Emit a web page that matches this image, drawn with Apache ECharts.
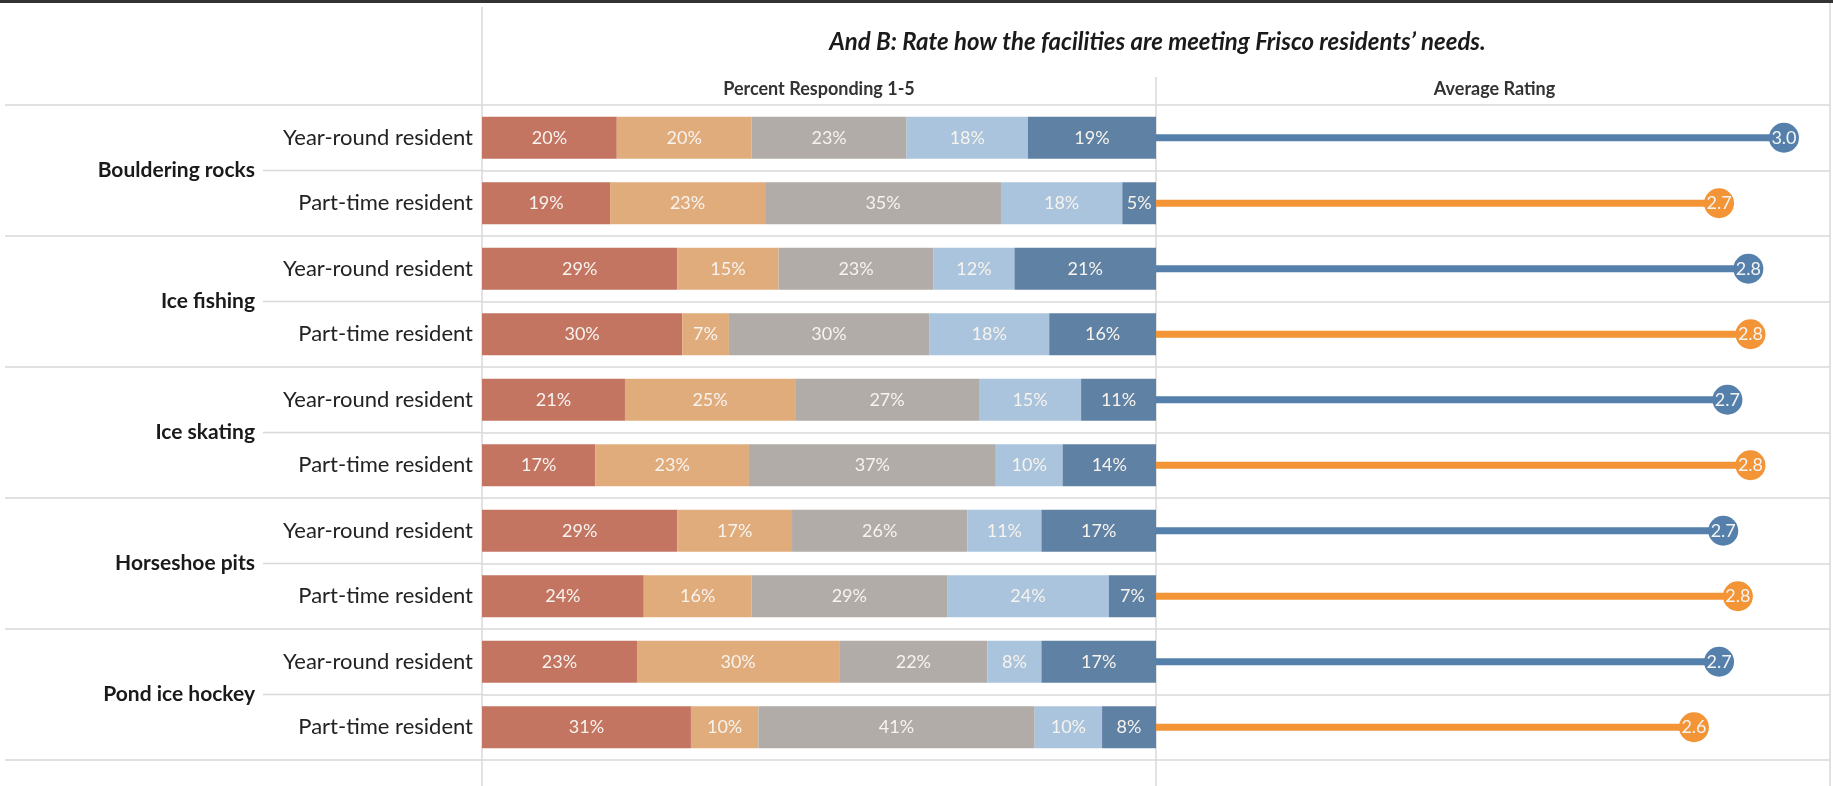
<!DOCTYPE html>
<html>
<head>
<meta charset="utf-8">
<script src="https://cdn.jsdelivr.net/npm/echarts@6/dist/echarts.min.js"></script>
<style>
  html, body { margin: 0; padding: 0; background: #fff; }
  #plot { width: 1833px; height: 786px; }
</style>
</head>
<body>
<div id="plot"></div>
<script>
// facilities and resident types (two rows per facility)
var groups = ['Bouldering rocks', 'Ice fishing', 'Ice skating', 'Horseshoe pits', 'Pond ice hockey'];
var residentTypes = ['Year-round resident', 'Part-time resident'];

// percent responding 1..5, one value per row (Y, P, Y, P ...)
var rating1 = [20, 19, 29, 30, 21, 17, 29, 24, 23, 31];
var rating2 = [20, 23, 15, 7, 25, 23, 17, 16, 30, 10];
var rating3 = [23, 35, 23, 30, 27, 37, 26, 29, 22, 41];
var rating4 = [18, 18, 12, 18, 15, 10, 11, 24, 8, 10];
var rating5 = [19, 5, 21, 16, 11, 14, 17, 7, 17, 8];

// average rating per row
var avgRating = [3.0, 2.69, 2.83, 2.84, 2.73, 2.84, 2.71, 2.78, 2.69, 2.57];

var ratingColors = ['#c47562', '#e1ac7c', '#b1aca7', '#a9c4dc', '#5f81a4'];
var typeColors = ['#5580ab', '#f39536'];
var lineColor = '#d8d8d8';
var font = 'Lato';

var top0 = 105, height0 = 655;
var xBar = 482, xAvg = 1156, xEnd = 1830;

var rowKeys = [];
for (var g = 0; g < groups.length; g++) {
	for (var t = 0; t < residentTypes.length; t++) {
		rowKeys.push(groups[g] + '|' + residentTypes[t]);
	}
}

var ratings = [rating1, rating2, rating3, rating4, rating5];
var totals = rowKeys.map(function (k, i) {
	var s = 0;
	for (var r = 0; r < ratings.length; r++) s += ratings[r][i];
	return s;
});

var series = [];
ratings.forEach(function (arr, r) {
	series.push({
		type: 'bar',
		stack: 'pct',
		xAxisIndex: 0,
		yAxisIndex: 0,
		barWidth: 42,
		data: arr.map(function (v, i) { return v / totals[i] * 100; }),
		itemStyle: { color: ratingColors[r] },
		label: {
			show: true,
			position: 'inside',
			color: '#f7f3ee',
			fontFamily: font,
			fontSize: 18,
			formatter: function (p) { return arr[p.dataIndex] + '%'; }
		},
		silent: true
	});
});

// lollipop stems
series.push({
	type: 'bar',
	xAxisIndex: 1,
	yAxisIndex: 2,
	barWidth: 7,
	data: avgRating,
	itemStyle: { color: function (p) { return typeColors[p.dataIndex % 2]; } },
	silent: true
});
// lollipop heads
series.push({
	type: 'scatter',
	xAxisIndex: 1,
	yAxisIndex: 2,
	symbolSize: 30,
	data: avgRating.map(function (v, i) { return [v, i]; }),
	itemStyle: { color: function (p) { return typeColors[p.dataIndex % 2]; }, opacity: 1 },
	label: {
		show: true,
		position: 'inside',
		color: '#f4f4f4',
		fontFamily: font,
		fontSize: 18,
		formatter: function (p) { return p.value[0].toFixed(1); }
	},
	z: 5,
	silent: true
});

var graphics = [
	{ type: 'rect', shape: { x: 0, y: 0, width: 1833, height: 3 }, style: { fill: '#333' }, silent: true },
	{ type: 'line', shape: { x1: xBar, y1: 7, x2: xBar, y2: 786 }, style: { stroke: lineColor, lineWidth: 1.5 }, silent: true },
	{ type: 'line', shape: { x1: xAvg, y1: 77, x2: xAvg, y2: 786 }, style: { stroke: lineColor, lineWidth: 1.5 }, silent: true },
	{ type: 'line', shape: { x1: xEnd, y1: 3, x2: xEnd, y2: 786 }, style: { stroke: lineColor, lineWidth: 1.5 }, silent: true },
	{
		type: 'text', x: (xBar + 1833) / 2, y: 42,
		style: { text: 'And B: Rate how the facilities are meeting Frisco residents\u2019 needs.', fontFamily: font, fontSize: 24, fontWeight: 'bold', fontStyle: 'italic', fill: '#1a1a1a', align: 'center', verticalAlign: 'middle' },
		silent: true
	},
	{
		type: 'text', x: (xBar + xAvg) / 2, y: 89,
		style: { text: 'Percent Responding 1-5', fontFamily: font, fontSize: 18, fontWeight: 'bold', fill: '#333', align: 'center', verticalAlign: 'middle' },
		silent: true
	},
	{
		type: 'text', x: (xAvg + 1833) / 2, y: 89,
		style: { text: 'Average Rating', fontFamily: font, fontSize: 18, fontWeight: 'bold', fill: '#333', align: 'center', verticalAlign: 'middle' },
		silent: true
	}
];
// short rule after each facility name
var groupH = height0 / groups.length;
for (var k = 0; k < groups.length; k++) {
	var yMid = top0 + groupH * (k + 0.5);
	graphics.push({ type: 'line', shape: { x1: 263, y1: yMid, x2: xBar, y2: yMid }, style: { stroke: lineColor, lineWidth: 1.5 }, silent: true });
}

var option = {
	animation: false,
	backgroundColor: '#fff',
	grid: [
		{ left: xBar, top: top0, width: xAvg - xBar, height: height0 },
		{ left: xAvg, top: top0, width: xEnd - xAvg, height: height0 }
	],
	xAxis: [
		{ type: 'value', gridIndex: 0, min: 0, max: 100, show: false },
		{ type: 'value', gridIndex: 1, min: 0, max: 3.22, show: false }
	],
	yAxis: [
		{
			type: 'category', gridIndex: 0, inverse: true, position: 'left', data: rowKeys,
			axisLine: { show: false }, axisTick: { show: false },
			splitLine: { show: true, lineStyle: { color: lineColor, width: 1.5 } },
			axisLabel: {
				margin: 9, fontFamily: font, fontSize: 22, color: '#222',
				formatter: function (v) { return v.split('|')[1]; }
			}
		},
		{
			type: 'category', gridIndex: 0, inverse: true, position: 'left', data: groups,
			axisLine: { show: false },
			axisTick: { show: true, length: xBar - 5, lineStyle: { color: lineColor, width: 1.5 } },
			splitLine: { show: false },
			axisLabel: { margin: xBar - 255, fontFamily: font, fontSize: 21, fontWeight: 'bold', color: '#1a1a1a' }
		},
		{
			type: 'category', gridIndex: 1, inverse: true, data: rowKeys,
			axisLine: { show: false }, axisTick: { show: false }, axisLabel: { show: false },
			splitLine: { show: true, lineStyle: { color: lineColor, width: 1.5 } }
		}
	],
	graphic: graphics,
	series: series
};

var myChart = echarts.init(document.getElementById('plot'));
myChart.setOption(option);
</script>
</body>
</html>
